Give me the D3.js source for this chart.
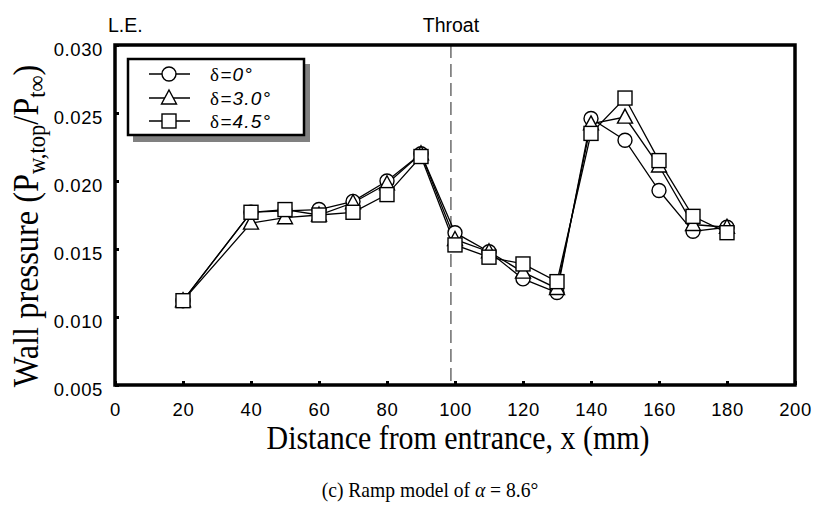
<!DOCTYPE html>
<html><head><meta charset="utf-8">
<script src="https://cdn.jsdelivr.net/npm/d3@7/dist/d3.min.js"></script>
<style>body{margin:0;background:#fff}svg{display:block}</style>
</head><body>
<svg id="c" width="817" height="505"></svg>
<script>
const xs = [20,40,50,60,70,80,90,100,110,120,130,140,150,160,170,180];
const d0  = [0.0112,0.0177,0.0178,0.0179,0.0185,0.0200,0.0220,0.0162,0.0148,0.0128,0.0118,0.0246,0.0230,0.0193,0.0163,0.0166];
const d30 = [0.0112,0.0169,0.0173,0.0175,0.0184,0.0198,0.0220,0.0157,0.0148,0.0133,0.0121,0.0242,0.0247,0.0211,0.0168,0.0166];
const d45 = [0.0112,0.0177,0.0179,0.0175,0.0177,0.0190,0.0218,0.0153,0.0144,0.0139,0.0126,0.0235,0.0261,0.0215,0.0174,0.0162];
const xTicks = [0,20,40,60,80,100,120,140,160,180,200];
const yTicks = [0.005,0.010,0.015,0.020,0.025,0.030];
const seriesNames = ["δ=0°","δ=3.0°","δ=4.5°"];
const throatX = 98.8;

const svg = d3.select("#c");
const L=115,R=795,T=45,B=385;
const x = d3.scaleLinear().domain([0,200]).range([L,R]);
const y = d3.scaleLinear().domain([0.005,0.030]).range([B,T]);
const SANS = "Liberation Sans, Arial, sans-serif";
const SERIF = "Liberation Serif, Times New Roman, serif";

// dashed throat line
svg.append("line").attr("x1",x(throatX)).attr("x2",x(throatX)).attr("y1",T).attr("y2",B)
  .attr("stroke","#555").attr("stroke-width",1.3).attr("stroke-dasharray","13,6");

// axes
const xa = svg.append("g").attr("transform",`translate(0,${B})`)
  .call(d3.axisBottom(x).tickValues(xTicks).tickFormat(d3.format("d")).tickSize(-4).tickPadding(18));
const ya = svg.append("g").attr("transform",`translate(${L},0)`)
  .call(d3.axisLeft(y).tickValues(yTicks).tickFormat(d3.format(".3f")).tickSize(-4).tickPadding(12));
[xa,ya].forEach(g=>{
  g.select(".domain").remove();
  g.selectAll(".tick line").attr("stroke","#000").attr("stroke-width",3);
  g.selectAll("text").attr("font-family",SANS).attr("font-size",18.5).attr("fill","#000").attr("letter-spacing",0.6);
});
xa.selectAll("text").attr("dy","0.71em");
ya.selectAll("text").attr("dy","0.55em");

// frame
svg.append("rect").attr("x",L).attr("y",T).attr("width",R-L).attr("height",B-T)
  .attr("fill","none").attr("stroke","#000").attr("stroke-width",3.5);

const series = [
  {vals:d0, shape:"circle"},
  {vals:d30, shape:"tri"},
  {vals:d45, shape:"sq"}
];
function marker(g, shape, cx, cy){
  if(shape==="circle") g.append("circle").attr("cx",cx).attr("cy",cy).attr("r",7);
  else if(shape==="sq") g.append("rect").attr("x",cx-7).attr("y",cy-7).attr("width",14).attr("height",14);
  else g.append("path").attr("d",`M${cx},${cy-8}L${cx+7.5},${cy+6}L${cx-7.5},${cy+6}Z`);
}
const line = d3.line().x((d,i)=>x(xs[i])).y(d=>y(d));
series.forEach(s=>{
  svg.append("path").attr("d",line(s.vals)).attr("fill","none").attr("stroke","#000").attr("stroke-width",1.3);
});
series.forEach(s=>{
  const g = svg.append("g").attr("fill","#fff").attr("stroke","#000").attr("stroke-width",1.4);
  s.vals.forEach((v,i)=>marker(g,s.shape,x(xs[i]),y(v)));
});

// legend
const lg = svg.append("g");
lg.append("rect").attr("x",133).attr("y",64).attr("width",177).attr("height",78).attr("fill","#808080");
lg.append("rect").attr("x",128).attr("y",59).attr("width",176).attr("height",76).attr("fill","#fff").attr("stroke","#000").attr("stroke-width",2.5);
const rows=[74,98,121];
series.forEach((s,i)=>{
  lg.append("line").attr("x1",149).attr("x2",190).attr("y1",rows[i]).attr("y2",rows[i]).attr("stroke","#000").attr("stroke-width",1.3);
  const g = lg.append("g").attr("fill","#fff").attr("stroke","#000").attr("stroke-width",1.4);
  marker(g,s.shape,169,rows[i]);
  const t = lg.append("text").attr("x",210).attr("y",rows[i]+7).attr("font-size",19).attr("fill","#000").attr("letter-spacing",1.2);
  t.append("tspan").attr("font-family",SERIF).text(seriesNames[i].slice(0,1));
  t.append("tspan").attr("font-family",SANS).attr("font-style","italic").text(seriesNames[i].slice(1));
});

// top labels
svg.append("text").attr("x",108).attr("y",32).attr("font-family",SANS).attr("font-size",19.5).text("L.E.");
svg.append("text").attr("x",x(throatX)).attr("y",32).attr("text-anchor","middle").attr("font-family",SANS).attr("font-size",19.5).text("Throat");

// axis titles
svg.append("text").attr("transform","translate(458,449) scale(0.88,1)").attr("text-anchor","middle")
  .attr("font-family",SERIF).attr("font-size",34).text("Distance from entrance, x (mm)");
const yt = svg.append("text").attr("transform","translate(38,226) rotate(-90) scale(0.9,1)").attr("text-anchor","middle")
  .attr("font-family",SERIF).attr("font-size",36);
yt.append("tspan").text("Wall pressure (P");
yt.append("tspan").attr("font-size",25).attr("dy",7).text("w,top");
yt.append("tspan").attr("dy",-7).text("/P");
yt.append("tspan").attr("font-size",25).attr("dy",7).text("t∞");
yt.append("tspan").attr("dy",-7).text(")");

// caption
const cap = svg.append("text").attr("transform","translate(430,497) scale(0.89,1)").attr("text-anchor","middle")
  .attr("font-family",SERIF).attr("font-size",22);
cap.append("tspan").text("(c) Ramp model of ");
cap.append("tspan").attr("font-style","italic").text("α");
cap.append("tspan").text(" = 8.6°");
</script>
</body></html>
